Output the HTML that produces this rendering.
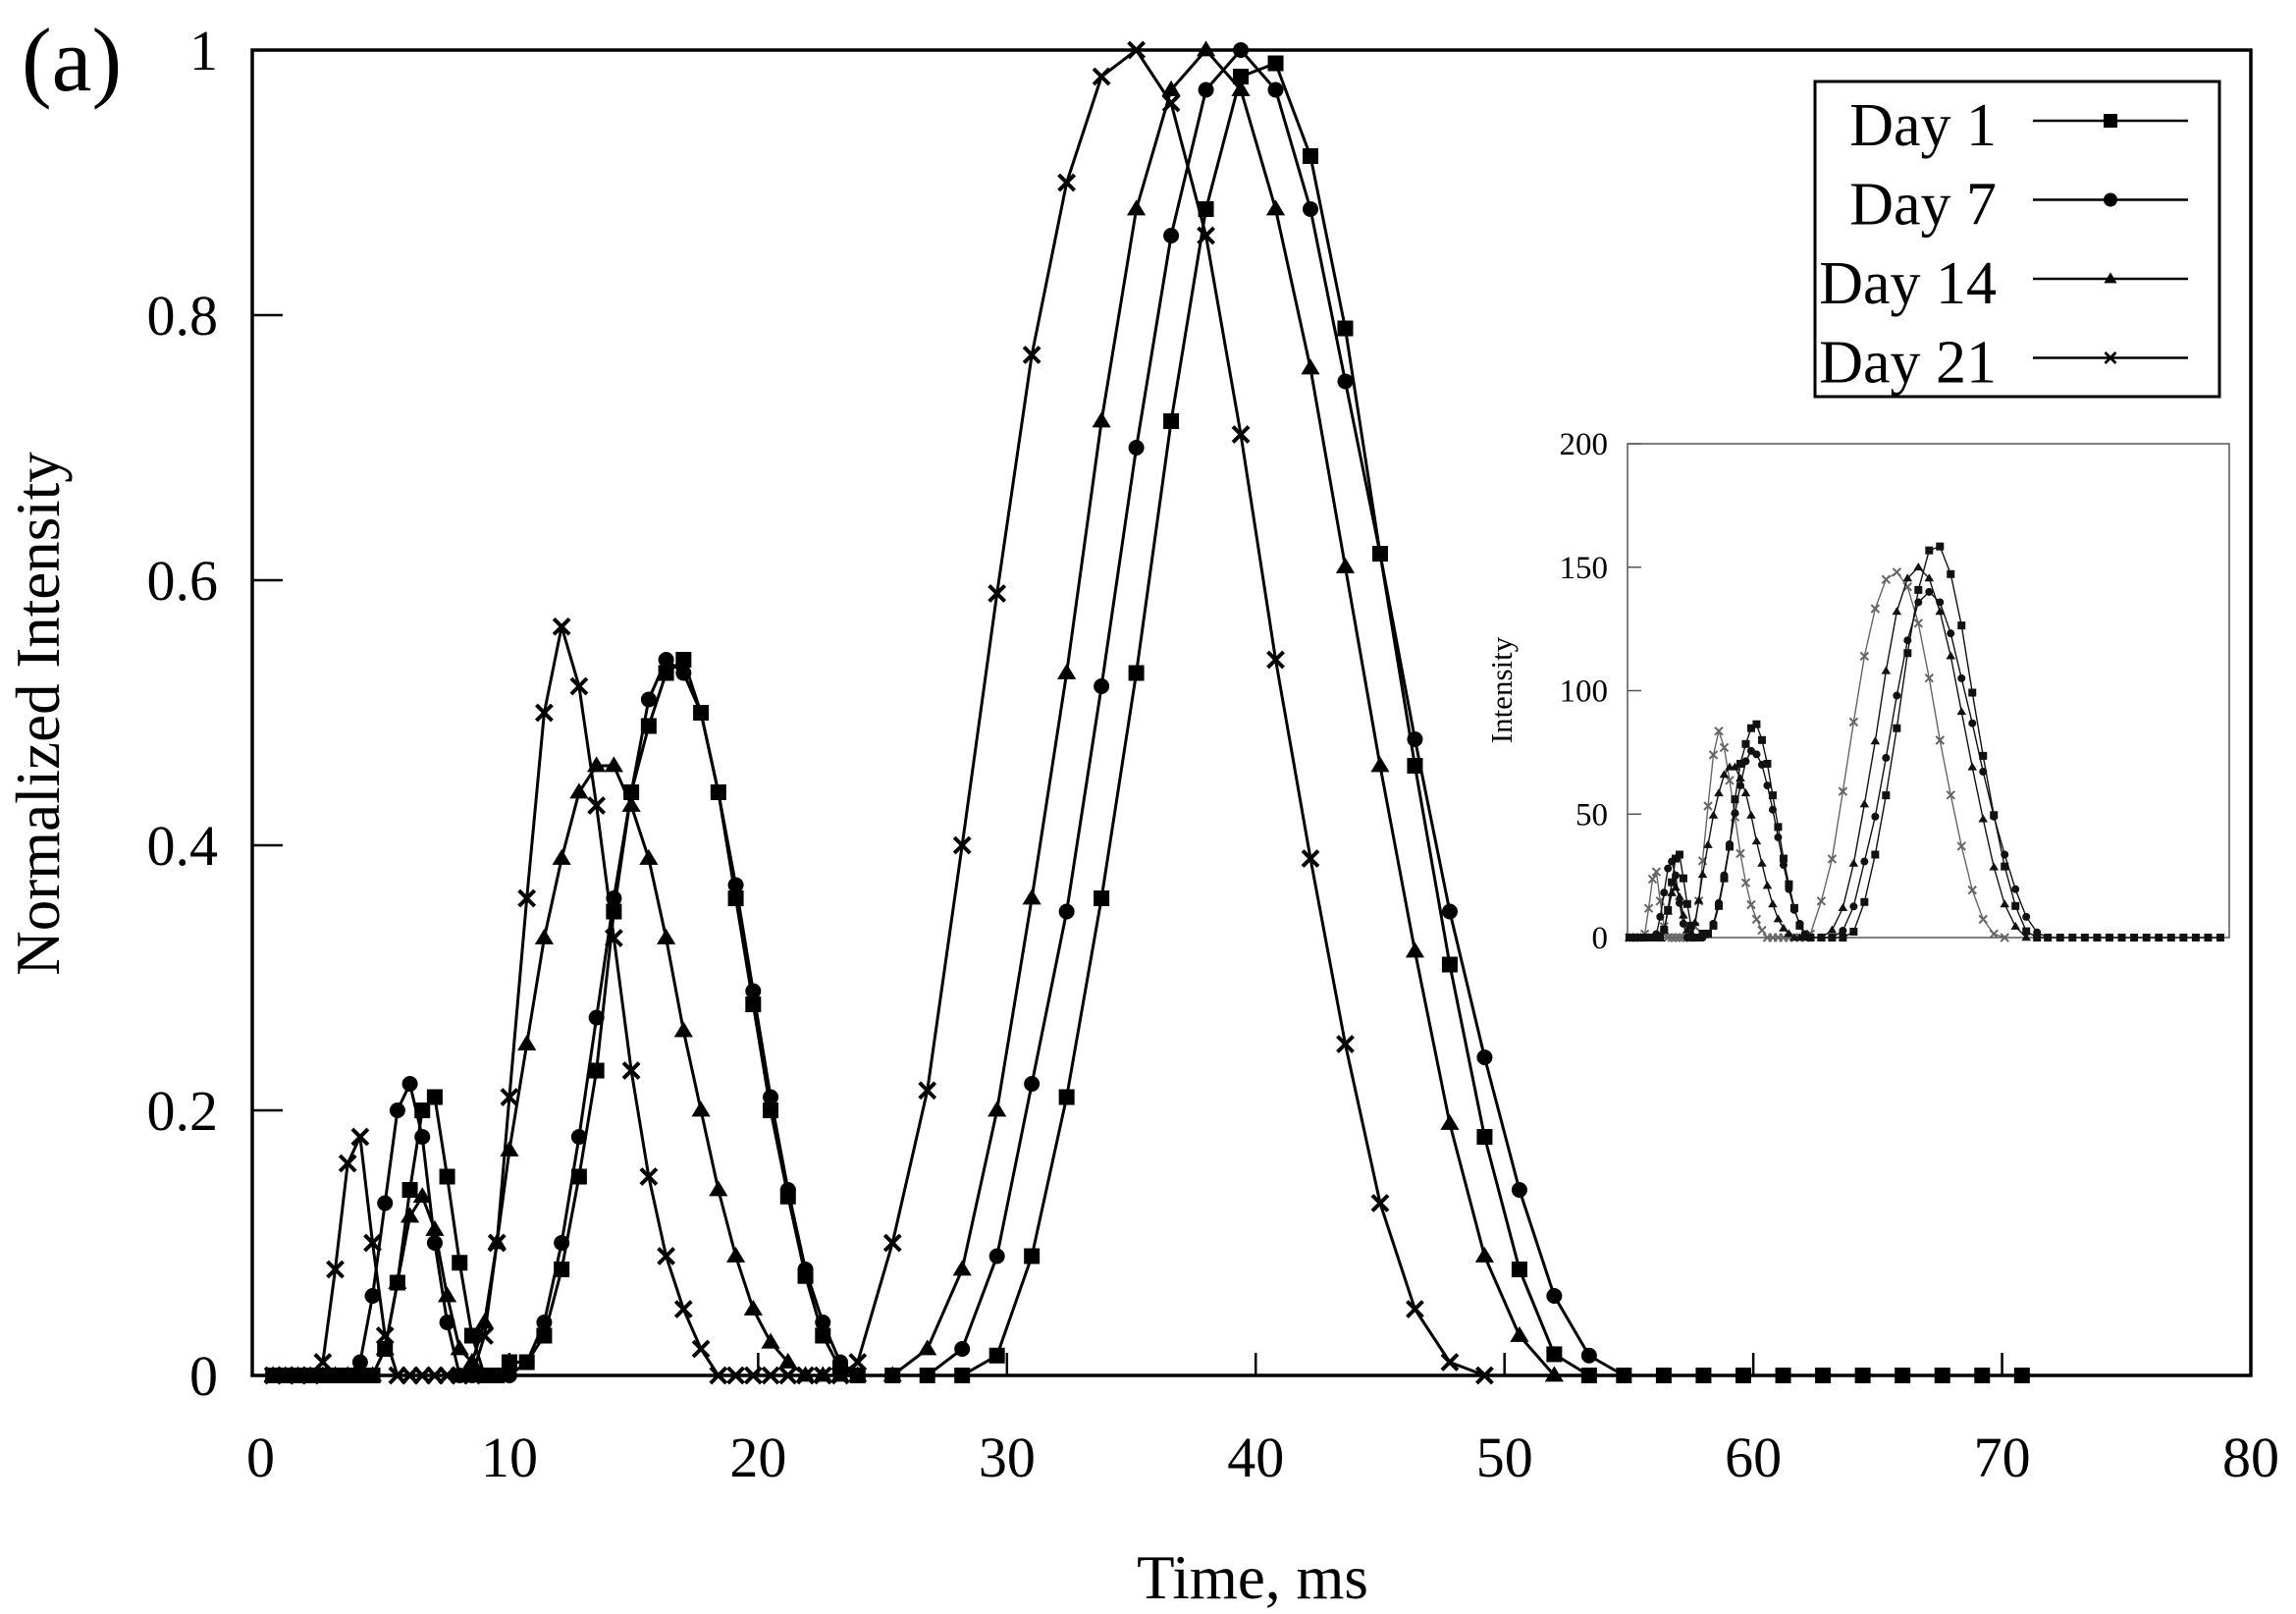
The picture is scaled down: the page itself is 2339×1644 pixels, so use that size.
<!DOCTYPE html>
<html><head><meta charset="utf-8"><style>
html,body{margin:0;padding:0;background:#fff;}
svg{display:block;font-family:"Liberation Serif",serif;}
</style></head><body>
<svg id="chart" width="2339" height="1644" viewBox="0 0 2339 1644" xmlns="http://www.w3.org/2000/svg">
<text x="22" y="92" font-size="92">(a)</text>
<rect x="257" y="51" width="2036" height="1350" fill="none" stroke="#000" stroke-width="3.5"/>
<g id="axes"></g>
<g id="series"></g>
<text transform="translate(60,727) rotate(-90)" text-anchor="middle" font-size="63">Normalized Intensity</text>
<text x="1276" y="1628" text-anchor="middle" font-size="63">Time, ms</text>
<g id="legend">
<rect x="1849" y="83" width="412" height="321" fill="#fff" stroke="#000" stroke-width="3"/>
</g>
<g id="inset">
<rect x="1658" y="452" width="613" height="503" fill="#fff" stroke="#555" stroke-width="1.5"/>
<text transform="translate(1540,703) rotate(-90)" text-anchor="middle" font-size="31">Intensity</text>
</g>
</svg>
<script>
const times=[0.5,1,1.5,2,2.5,3,3.5,4,4.5,5,5.5,6,6.5,7,7.5,8,8.5,9,9.5,10,10.7,11.4,12.1,12.8,13.5,14.2,14.9,15.6,16.3,17,17.7,18.4,19.1,19.8,20.5,21.2,21.9,22.6,23.3,24,25.4,26.8,28.2,29.6,31,32.4,33.8,35.2,36.6,38,39.4,40.8,42.2,43.6,45,46.4,47.8,49.2,50.6,52,53.4,54.8,56.4,58,59.6,61.2,62.8,64.4,66,67.6,69.2,70.8,72.4,74,75.6,77.2];
const day1=[0,0,0,0,0,0,0,0,0,0.02,0.07,0.14,0.20,0.21,0.15,0.085,0.03,0,0,0.01,0.01,0.03,0.08,0.15,0.23,0.35,0.44,0.49,0.53,0.54,0.50,0.44,0.36,0.28,0.20,0.135,0.075,0.03,0.005,0,0,0,0,0.015,0.09,0.21,0.36,0.53,0.72,0.88,0.98,0.99,0.92,0.79,0.62,0.46,0.31,0.18,0.08,0.016,0,0,0,0,0,0,0,0,0,0,0,0,0,0,0,0];
const day7=[0,0,0,0,0,0,0,0.01,0.06,0.13,0.20,0.22,0.18,0.10,0.04,0,0,0,0,0,0.01,0.04,0.10,0.18,0.27,0.36,0.44,0.51,0.54,0.53,0.50,0.44,0.37,0.29,0.21,0.14,0.08,0.04,0.01,0,0,0,0.02,0.09,0.22,0.35,0.52,0.70,0.86,0.97,1.0,0.97,0.88,0.75,0.62,0.48,0.35,0.24,0.14,0.06,0.015,0];
const day14=[0,0,0,0,0,0,0,0,0,0.02,0.07,0.12,0.135,0.11,0.06,0.02,0.01,0.04,0.10,0.17,0.25,0.33,0.39,0.44,0.46,0.46,0.43,0.39,0.33,0.26,0.20,0.14,0.09,0.05,0.025,0.01,0,0,0,0,0,0.02,0.08,0.20,0.36,0.53,0.72,0.88,0.97,1.0,0.97,0.88,0.76,0.61,0.46,0.32,0.19,0.09,0.03,0];
const day21=[0,0,0,0,0.01,0.08,0.16,0.18,0.10,0.03,0,0,0,0,0,0,0,0.03,0.10,0.21,0.36,0.50,0.565,0.52,0.43,0.33,0.23,0.15,0.09,0.05,0.02,0,0,0,0,0,0,0,0,0.01,0.10,0.215,0.40,0.59,0.77,0.90,0.98,1.0,0.96,0.86,0.71,0.54,0.39,0.25,0.13,0.05,0.01,0];
const seriesNames=["Day 1","Day 7","Day 14","Day 21"];
const insetScale=[160,140,150,148];
const xTicks=[0,10,20,30,40,50,60,70,80];
const yTicks=[0,0.2,0.4,0.6,0.8,1];
const yTickLabels=["0","0.2","0.4","0.6","0.8","1"];
const insetYTicks=[0,50,100,150,200];

const NS="http://www.w3.org/2000/svg";
const X=t=>265.5+t*(2293-265.5)/80;
const Y=v=>1401-v*1350;
const IX=t=>1656+t*7.85;
const IY=v=>955-v*(955-452)/200;
function mk(tag,attrs,parent){const e=document.createElementNS(NS,tag);for(const k in attrs)e.setAttribute(k,attrs[k]);parent.appendChild(e);return e;}
const axes=document.getElementById('axes');
xTicks.forEach((t,i)=>{
  if(t>0&&t<80){const l=mk('line',{x1:X(t),x2:X(t),y1:1401,y2:1378,stroke:'#000','stroke-width':2.5},axes);
  
  }
  const tx=mk('text',{x:X(t),y:1504,'text-anchor':'middle','font-size':58},axes);tx.textContent=t;
  
  
});
yTicks.forEach((v,i)=>{
  if(v>0&&v<1){const l=mk('line',{x1:257,x2:288,y1:Y(v),y2:Y(v),stroke:'#000','stroke-width':2.5},axes);
  
  }
  const tx=mk('text',{x:222,y:Y(v)+20,'text-anchor':'end','font-size':58},axes);tx.textContent=yTickLabels[i];
  
  
});
const data=[day1,day7,day14,day21];
const shapes=['square','circle','triangle','cross'];
function marker(shape,x,y,s,parent,col){
  let e;
  if(shape==='square')e=mk('rect',{x:x-s/2,y:y-s/2,width:s,height:s,fill:col},parent);
  else if(shape==='circle')e=mk('circle',{cx:x,cy:y,r:s/2,fill:col},parent);
  else if(shape==='triangle')e=mk('polygon',{points:`${x},${y-s*0.6} ${x+s*0.6},${y+s*0.4} ${x-s*0.6},${y+s*0.4}`,fill:col},parent);
  else e=mk('path',{d:`M${x-s/2},${y-s/2}L${x+s/2},${y+s/2}M${x+s/2},${y-s/2}L${x-s/2},${y+s/2}`,stroke:col,'stroke-width':s/4},parent);
  return e;
}
const sg=document.getElementById('series');
data.forEach((vals,si)=>{
  const g=mk('g',{},sg);
  
  
  const pts=[];
  vals.forEach((v,i)=>{if(times[i]<=71)pts.push([X(times[i]),Y(v)]);});
  const pl=mk('polyline',{points:pts.map(p=>p.join(',')).join(' '),fill:'none',stroke:'#000','stroke-width':3,'stroke-linejoin':'round'},g);
  
  
  pts.forEach(p=>{const m=marker(shapes[si],p[0],p[1],16,g,'#000');
    
    });
});
const lg=document.getElementById('legend');
seriesNames.forEach((n,i)=>{
  const y=123+i*80.5;
  const tx=mk('text',{x:2034,y:y+25,'text-anchor':'end','font-size':62},lg);tx.textContent=n;
  
  
  const l=mk('line',{x1:2071,x2:2229,y1:y,y2:y,stroke:'#000','stroke-width':2.5},lg);
  
  
  const m=marker(shapes[i],2150,y,i<2?14:11,lg,'#000');
  
  
});
const ig=document.getElementById('inset');
insetYTicks.forEach(v=>{
  const l=mk('line',{x1:1658,x2:1672,y1:IY(v),y2:IY(v),stroke:'#555','stroke-width':1.5},ig);
  
  
  const tx=mk('text',{x:1638,y:IY(v)+11,'text-anchor':'end','font-size':33},ig);tx.textContent=v;
  
  
});
data.slice().reverse().forEach((vals,ri)=>{
  const si=3-ri;
  const g=mk('g',{},ig);
  
  
  const col=si===3?'#666':'#111';
  const pts=vals.map((v,i)=>[IX(times[i]),IY(v*insetScale[si])]);
  const pl=mk('polyline',{points:pts.map(p=>p.join(',')).join(' '),fill:'none',stroke:col,'stroke-width':1.4},g);
  
  
  pts.forEach(p=>{const m=marker(shapes[si],p[0],p[1],8,g,col);
    
    });
});
</script>
</body></html>
